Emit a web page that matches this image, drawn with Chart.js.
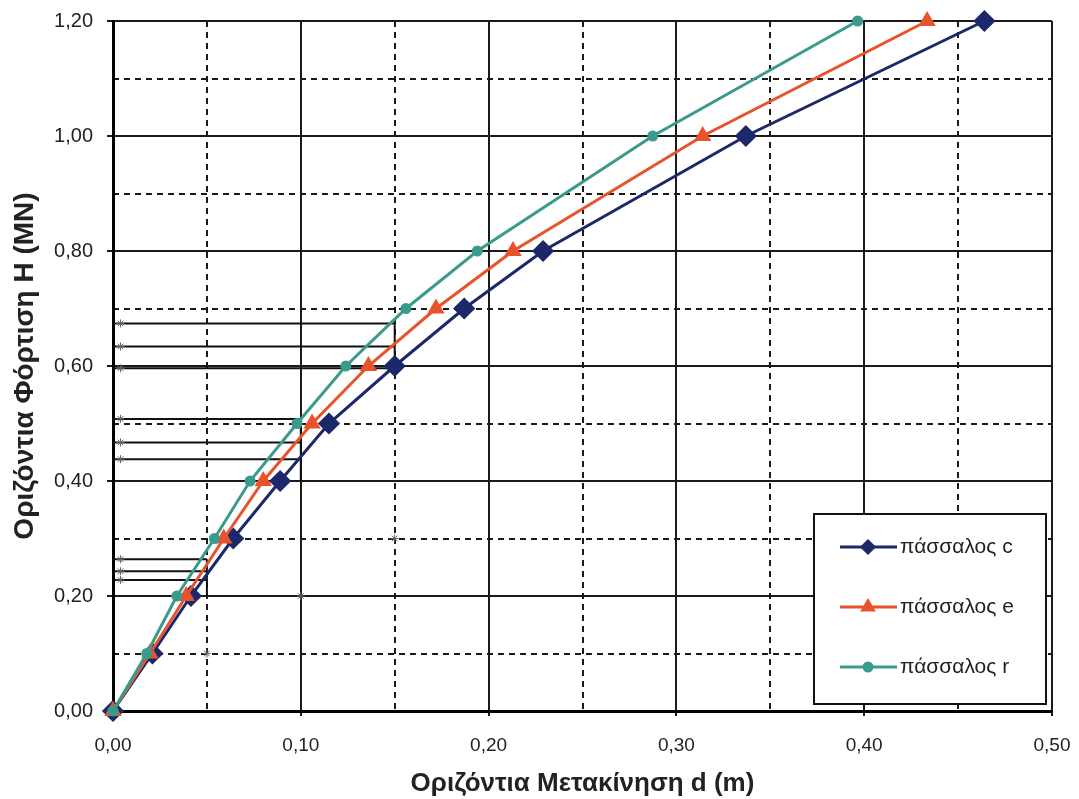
<!DOCTYPE html>
<html>
<head>
    <title>Οριζόντια Φόρτιση - Μετακίνηση</title>
    <style>
        body {
            margin: 0;
            background-color: #fff;
        }
        .chart-container {
            width: 1079px;
            height: 799px;
        }
    </style>
    <script src="https://cdn.jsdelivr.net/npm/chart.js@4"></script>
</head>
<body>
    <div class="chart-container">
        <canvas id="loadChart"></canvas>
    </div>

    <script>
        // load steps H (MN) and the displacement d (m) of each pile
        const loadLevels = [0, 0.1, 0.2, 0.3, 0.4, 0.5, 0.6, 0.7, 0.8, 1.0, 1.2];
        const dispC = [0, 0.021, 0.0415, 0.064, 0.089, 0.115, 0.150, 0.187, 0.229, 0.337, 0.464];
        const dispE = [0, 0.0197, 0.039, 0.059, 0.080, 0.106, 0.136, 0.172, 0.213, 0.314, 0.4335];
        const dispR = [0, 0.018, 0.034, 0.054, 0.073, 0.098, 0.124, 0.156, 0.194, 0.2874, 0.3965];

        const seriesNames = ['πάσσαλος c', 'πάσσαλος e', 'πάσσαλος r'];

        // reading lines: displacement d, the loads read at it, and where the riser starts
        const guideDisp = [0.05, 0.10, 0.15];
        const guideLoads = [[0.228, 0.243, 0.264], [0.438, 0.467, 0.508], [0.596, 0.634, 0.674]];
        const guideBase = [0.20, 0.40, 0.60];

        // small star marks
        const starX = [0.05, 0.10, 0.15];
        const starY = [0.10, 0.20, 0.30];

        const xTicks = [0, 0.1, 0.2, 0.3, 0.4, 0.5];
        const yTicks = [0, 0.2, 0.4, 0.6, 0.8, 1.0, 1.2];

        function pts(xs, ys) {
            return xs.map((x, i) => ({ x: x, y: ys[i] }));
        }

        function comma(v) {
            return Number(v).toFixed(2).replace('.', ',');
        }

        // keep the plot box fixed: no extra room for overhanging tick labels
        function noOverhang(s) {
            s.paddingLeft = 0;
            s.paddingRight = 0;
            s.paddingTop = 0;
            s.paddingBottom = 0;
        }

        let datasets = [
            {
                label: seriesNames[0],
                data: pts(dispC, loadLevels),
                borderColor: '#1c286a',
                backgroundColor: '#1c286a',
                borderWidth: 3,
                pointStyle: 'rectRot',
                pointRadius: 9,
                order: 3
            },
            {
                label: seriesNames[1],
                data: pts(dispE, loadLevels),
                borderColor: '#e8532c',
                backgroundColor: '#e8532c',
                borderWidth: 3,
                pointStyle: 'triangle',
                pointRadius: 7,
                order: 2
            },
            {
                label: seriesNames[2],
                data: pts(dispR, loadLevels),
                borderColor: '#3a9a8c',
                backgroundColor: '#3a9a8c',
                borderWidth: 3,
                pointStyle: 'circle',
                pointRadius: 4,
                order: 1
            }
        ];

        // horizontal reading lines from the H axis out to d, plus the short riser
        guideDisp.forEach((d, g) => {
            guideLoads[g].forEach(h => {
                datasets.push({
                    label: 'guide',
                    data: [{ x: 0, y: h }, { x: d, y: h }],
                    borderColor: '#111',
                    borderWidth: 2,
                    pointRadius: 0,
                    order: 10
                });
            });
            let top = Math.max.apply(null, guideLoads[g]);
            datasets.push({
                label: 'guide',
                data: [{ x: d, y: guideBase[g] }, { x: d, y: top }],
                borderColor: '#111',
                borderWidth: 2,
                pointRadius: 0,
                order: 10
            });
        });

        let starPoints = pts(starX, starY);
        guideLoads.forEach(levels => levels.forEach(h => starPoints.push({ x: 0.004, y: h })));
        datasets.push({
            label: 'stars',
            type: 'scatter',
            data: starPoints,
            pointStyle: 'star',
            pointRadius: 4,
            borderColor: '#666',
            borderWidth: 1,
            order: 9
        });

        // legend box drawn inside the plot, lower right
        const boxLegend = {
            id: 'boxLegend',
            afterDraw(chart) {
                const ctx = chart.ctx;
                const area = chart.chartArea;
                const bx = area.right - 238, by = area.bottom - 197, bw = 232, bh = 190;
                ctx.save();
                ctx.fillStyle = '#fff';
                ctx.fillRect(bx, by, bw, bh);
                ctx.strokeStyle = '#111';
                ctx.lineWidth = 2;
                ctx.strokeRect(bx, by, bw, bh);
                ctx.font = '21px "Liberation Sans", Arial, sans-serif';
                ctx.textBaseline = 'middle';
                for (let i = 0; i < 3; i++) {
                    const ds = chart.data.datasets[i];
                    const y = by + 33 + i * 60;
                    ctx.strokeStyle = ds.borderColor;
                    ctx.lineWidth = 3;
                    ctx.beginPath();
                    ctx.moveTo(bx + 26, y);
                    ctx.lineTo(bx + 83, y);
                    ctx.stroke();
                    ctx.fillStyle = ds.backgroundColor;
                    Chart.helpers.drawPoint(ctx, {
                        pointStyle: ds.pointStyle,
                        radius: Math.min(ds.pointRadius, 6),
                        rotation: 0,
                        borderWidth: 1
                    }, bx + 54, y);
                    ctx.fillStyle = '#222';
                    ctx.fillText(ds.label, bx + 86, y);
                }
                ctx.restore();
            }
        };

        const gridColor = '#1a1a1a';

        new Chart(document.getElementById('loadChart'), {
            type: 'line',
            data: { datasets: datasets },
            options: {
                responsive: true,
                maintainAspectRatio: false,
                animation: false,
                layout: { padding: { top: 21, right: 27, left: 0, bottom: 0 } },
                elements: { line: { tension: 0 } },
                datasets: { line: { clip: false }, scatter: { clip: false } },
                plugins: {
                    legend: { display: false },
                    tooltip: { enabled: false }
                },
                scales: {
                    x: {
                        type: 'linear',
                        position: 'bottom',
                        min: 0,
                        max: 0.5,
                        afterBuildTicks: s => { s.ticks = xTicks.map(v => ({ value: v })); },
                        afterFit: s => { s.height = 88; noOverhang(s); },
                        ticks: {
                            callback: v => comma(v),
                            color: '#222',
                            padding: 18,
                            maxRotation: 0,
                            font: { family: '"Liberation Sans Narrow", "Liberation Sans", sans-serif', size: 19 }
                        },
                        grid: { color: gridColor, lineWidth: 2, tickLength: 5 },
                        border: { color: '#000', width: 3 },
                        title: {
                            display: true,
                            text: 'Οριζόντια Μετακίνηση d (m)',
                            color: '#222',
                            padding: { top: 0, bottom: 0 },
                            font: { family: '"Liberation Sans", Arial, sans-serif', size: 26, weight: 'bold' }
                        }
                    },
                    xMinor: {
                        type: 'linear',
                        position: 'bottom',
                        min: 0,
                        max: 0.5,
                        ticks: { display: false, stepSize: 0.05 },
                        afterFit: s => { s.height = 0; noOverhang(s); },
                        grid: { color: gridColor, lineWidth: 2, drawTicks: false },
                        border: { display: false, dash: [6, 5] }
                    },
                    y: {
                        type: 'linear',
                        position: 'left',
                        min: 0,
                        max: 1.2,
                        afterBuildTicks: s => { s.ticks = yTicks.map(v => ({ value: v })); },
                        afterFit: s => { s.width = 113; noOverhang(s); },
                        ticks: {
                            callback: v => comma(v),
                            color: '#222',
                            padding: 14,
                            font: { family: '"Liberation Sans", Arial, sans-serif', size: 20 }
                        },
                        grid: { color: gridColor, lineWidth: 2, tickLength: 6 },
                        border: { color: '#000', width: 3 },
                        title: {
                            display: true,
                            text: 'Οριζόντια Φόρτιση H (MN)',
                            color: '#222',
                            padding: { top: 8, bottom: 0 },
                            font: { family: '"Liberation Sans", Arial, sans-serif', size: 28, weight: 'bold' }
                        }
                    },
                    yMinor: {
                        type: 'linear',
                        position: 'left',
                        min: 0,
                        max: 1.2,
                        ticks: { display: false, stepSize: 0.1 },
                        afterFit: s => { s.width = 0; noOverhang(s); },
                        grid: { color: gridColor, lineWidth: 2, drawTicks: false },
                        border: { display: false, dash: [6, 5] }
                    }
                }
            },
            plugins: [boxLegend]
        });
    </script>
</body>
</html>
